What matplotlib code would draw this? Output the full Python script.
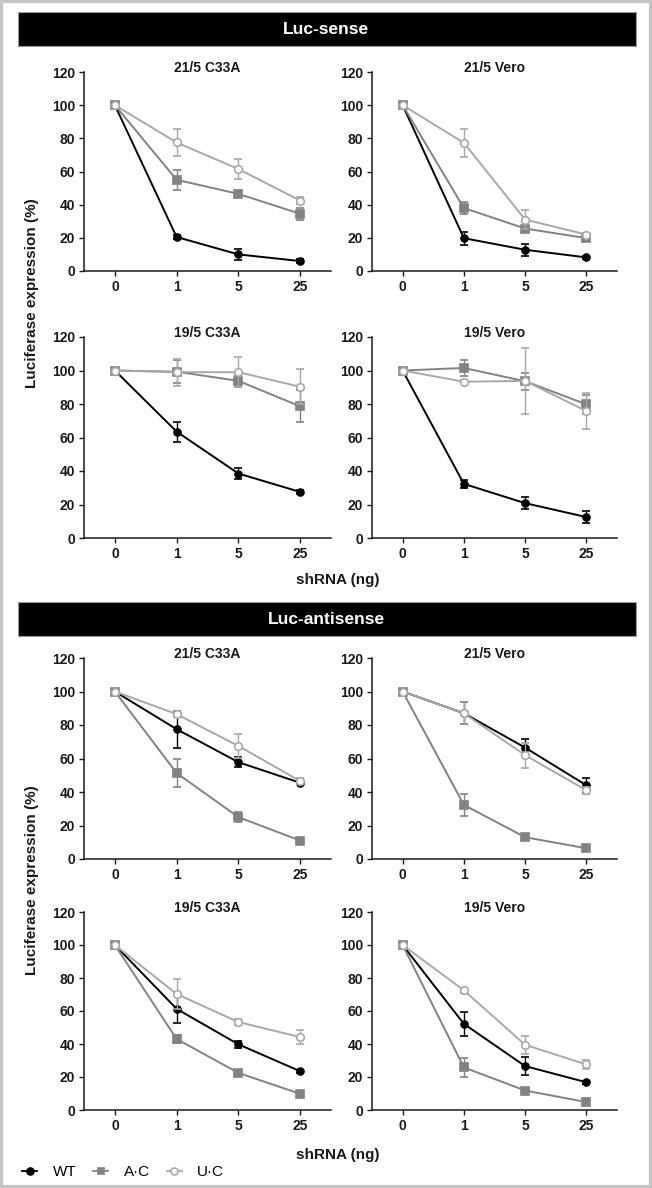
import matplotlib.pyplot as plt
from matplotlib.lines import Line2D
from matplotlib.patches import Rectangle

plt.rcParams['font.family'] = ['Liberation Sans', 'DejaVu Sans']

doses = ['0', '1', '5', '25']
series_names = ['WT', 'A\u00b7C', 'U\u00b7C']

# means: rows are WT, A.C, U.C
sense_21_c33a = [[100, 20.5, 10, 6], [100, 55, 46.5, 34.5], [100, 77.5, 61.5, 42.5]]
sense_21_c33a_err = [[0, 1, 3.5, 1], [0, 6, 1.5, 3.5], [0, 8, 6, 2]]
sense_21_vero = [[100, 19.8, 12.8, 8.2], [100, 38, 25.6, 19.8], [100, 77.3, 31, 22]]
sense_21_vero_err = [[0, 4, 3.5, 1], [0, 3.5, 1, 1], [0, 8.3, 5.8, 1]]
sense_19_c33a = [[100, 63.5, 38.5, 27.5], [100, 99.3, 93.8, 78.6], [100, 99, 99, 90.3]]
sense_19_c33a_err = [[0, 6, 3, 1], [0, 7, 3.5, 9.5], [0, 8, 9, 10.5]]
sense_19_vero = [[100, 32.3, 20.8, 12.5], [100, 101.5, 93.6, 79.8], [100, 93.3, 93.8, 75.8]]
sense_19_vero_err = [[0, 2.5, 3.5, 3.5], [0, 4.5, 5, 5.5], [0, 1, 19.5, 10.5]]

anti_21_c33a = [[100, 77.5, 57.8, 45.5], [100, 51.3, 25, 11], [100, 86.5, 67.5, 46.5]]
anti_21_c33a_err = [[0, 11, 3, 1], [0, 8.3, 3, 1], [0, 2, 7, 2]]
anti_21_vero = [[100, 87, 66.5, 44], [100, 32.3, 13, 6.4], [100, 87, 62, 41]]
anti_21_vero_err = [[0, 6.5, 5, 4.5], [0, 6.5, 1, 1], [0, 6.5, 7.5, 2]]
anti_19_c33a = [[100, 61.3, 39.8, 23.5], [100, 43, 22.5, 9.8], [100, 70.3, 53.3, 44.2]]
anti_19_c33a_err = [[0, 8.5, 2, 1], [0, 2.5, 1, 1], [0, 9, 2, 4]]
anti_19_vero = [[100, 52.2, 26.6, 16.8], [100, 25.8, 11.8, 4.8], [100, 72.5, 39.5, 27.6]]
anti_19_vero_err = [[0, 7.2, 5.5, 1], [0, 6, 1, 1], [0, 1.5, 5.6, 2.8]]

W, H = 652, 1188
fig = plt.figure(figsize=(W / 100, H / 100), dpi=100)


def box(l, t, r, b):
    return [l / W, 1 - b / H, (r - l) / W, (b - t) / H]


colors = ['#000000', '#828282', '#a8a8a8']
markers = ['o', 's', 'o']
faces = ['#000000', '#828282', 'white']


def panel(rect, title, means, errs):
    ax = fig.add_axes(rect)
    x = list(range(len(doses)))
    for i in range(3):
        ax.errorbar(x, means[i], yerr=errs[i], color=colors[i], lw=1.4,
                    marker=markers[i], ms=5.5 if i else 5, mfc=faces[i],
                    mec=colors[i], mew=1.2, ecolor=colors[i], elinewidth=1,
                    capsize=3.2, capthick=1, zorder=3 + i)
    ax.set_xlim(-0.5, 3.5)
    ax.set_ylim(0, 120)
    ax.set_yticks(range(0, 121, 20))
    ax.set_xticks(x)
    ax.set_xticklabels(doses)
    for s in ['top', 'right']:
        ax.spines[s].set_visible(False)
    for s in ['left', 'bottom']:
        ax.spines[s].set_linewidth(1.1)
        ax.spines[s].set_color('#1a1a1a')
    ax.tick_params(direction='out', length=3.5, width=1, color='#1a1a1a',
                   labelsize=10, labelcolor='#1a1a1a', pad=3)
    for lab in ax.get_xticklabels() + ax.get_yticklabels():
        lab.set_fontweight('bold')
    ax.text(0.5, 1.02, title, transform=ax.transAxes, ha='center', va='center',
            fontsize=10, fontweight='bold', color='#1a1a1a')
    return ax


panel(box(84, 72, 331, 271), '21/5 C33A', sense_21_c33a, sense_21_c33a_err)
panel(box(372, 72, 617, 271), '21/5 Vero', sense_21_vero, sense_21_vero_err)
panel(box(84, 337, 331, 538), '19/5 C33A', sense_19_c33a, sense_19_c33a_err)
panel(box(372, 337, 617, 538), '19/5 Vero', sense_19_vero, sense_19_vero_err)
panel(box(84, 658, 331, 859), '21/5 C33A', anti_21_c33a, anti_21_c33a_err)
panel(box(372, 658, 617, 859), '21/5 Vero', anti_21_vero, anti_21_vero_err)
panel(box(84, 912, 331, 1110), '19/5 C33A', anti_19_c33a, anti_19_c33a_err)
panel(box(372, 912, 617, 1110), '19/5 Vero', anti_19_vero, anti_19_vero_err)

# header bars
for (top, bot, label) in [(12, 46, 'Luc-sense'), (602, 636, 'Luc-antisense')]:
    fig.patches.append(Rectangle((18 / W, 1 - bot / H), (636 - 18) / W, (bot - top) / H,
                                 transform=fig.transFigure, facecolor='black',
                                 edgecolor='#9a9a9a', lw=0.8))
    fig.text(326 / W, 1 - (top + bot) / 2 / H, label, color='white', fontsize=12.5,
             fontweight='bold', ha='center', va='center')

# axis labels
for yc in [293, 880]:
    fig.text(32 / W, 1 - yc / H, 'Luciferase expression (%)', rotation=90,
             fontsize=11, fontweight='bold', ha='center', va='center', color='#1a1a1a')
for yc in [580, 1155]:
    fig.text(338 / W, 1 - yc / H, 'shRNA (ng)', fontsize=11, fontweight='bold',
             ha='center', va='center', color='#1a1a1a')

handles = [Line2D([], [], color=colors[i], marker=markers[i], ms=5, mfc=faces[i],
                  mec=colors[i], mew=1.2, lw=1.3) for i in range(3)]
fig.legend(handles, series_names, loc='center left', bbox_to_anchor=(22 / W, 1 - 1172 / H),
           ncol=3, frameon=False, fontsize=11, handlelength=1.0, handletextpad=1.0,
           columnspacing=1.1, borderpad=0, borderaxespad=0)

fig.patches.append(Rectangle((0, 0), 1, 1, transform=fig.transFigure, fill=False,
                             edgecolor='#c4c4c4', lw=4.5))

fig.savefig('out.png', dpi=100, facecolor='white')
